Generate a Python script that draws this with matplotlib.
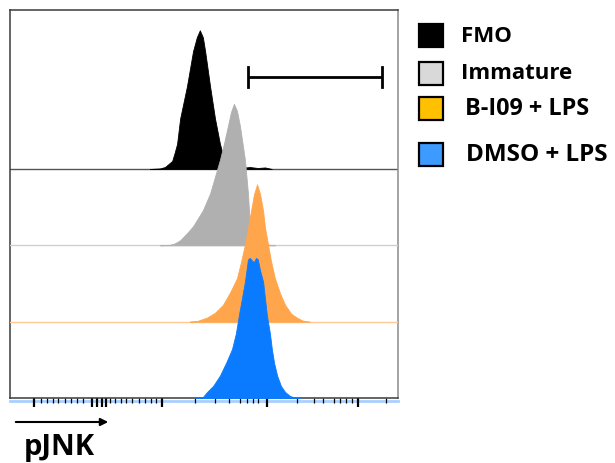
# Stacked flow cytometry histograms (pJNK), offset per sample

import matplotlib.pyplot as plt
from matplotlib.patches import Rectangle

# =============================================================================
#                                     Data
# =============================================================================
# x in channel units (0-1024), y in % of mode

fmo_x = [369, 396, 409, 428, 435, 441, 449, 467, 483, 493, 501, 509, 515, 528,
         541, 554, 565, 578, 607, 633, 654, 673, 691]
fmo_y = [0, 0.4, 1.4, 5.7, 12, 18, 36, 59, 84, 94, 99, 94, 84, 59,
         36, 18, 7, 2, 0.7, 1.4, 0.7, 1.1, 0]

imm_x = [396, 422, 435, 449, 467, 483, 509, 528, 541, 554, 565, 575, 583, 591,
         599, 607, 620, 628, 633, 639, 647, 665, 686, 699]
imm_y = [0, 0.4, 1.4, 3.6, 8.6, 13.6, 25, 37, 49, 61, 73, 85, 95, 101,
         96, 85, 61, 37, 14, 3.6, 1.4, 0.7, 0.4, 0]

bi09_x = [475, 493, 520, 541, 562, 581, 599, 610, 620, 628, 636, 644, 652, 660,
          668, 673, 681, 689, 699, 713, 726, 742, 757, 773, 792]
bi09_y = [0, 0.4, 2.9, 6.4, 12, 21, 31, 43, 55, 67, 79, 91, 98, 91,
          79, 67, 55, 43, 31, 20, 12, 5.7, 2.9, 0.7, 0]

dmso_x = [488, 509, 520, 536, 554, 570, 586, 596, 604, 612, 620, 628, 633, 639,
          644, 649, 654, 660, 668, 673, 678, 686, 691, 697, 705, 715, 726, 739,
          752, 765]
dmso_y = [0, 0.7, 4.3, 8.6, 16, 25, 35, 46, 59, 71, 83, 99, 100, 98,
          97, 100, 99, 91, 83, 71, 59, 46, 35, 25, 16, 8.6, 4.3, 1.4,
          0.4, 0]

labels = ['FMO', 'Immature', 'B-I09 + LPS', 'DMSO + LPS']
fill_colors = ['#000000', '#B0B0B0', '#FFA64D', '#0A7BFF']
base_colors = ['#555555', '#CFCFCF', '#FFC995', '#A8D0FF']
legend_colors = ['#000000', '#D9D9D9', '#FFC000', '#3D9BFF']

# axis ticks (channels)
major_ticks = [63, 216, 230, 243, 253, 401, 678, 918]
minor_ticks = [82, 98, 113, 127, 145, 161, 177, 193, 264, 277, 293, 306, 322,
               340, 356, 372, 385, 488, 541, 578, 607, 625, 641, 654, 757, 802,
               826, 855, 871, 887, 902, 992]

gate = (628, 982)  # positive gate

# =============================================================================
#                                     Plot
# =============================================================================
fig = plt.figure(figsize=(6.15, 4.64), dpi=100)
ax = fig.add_axes([10 / 615, 65 / 464, 388 / 615, 388 / 464])

offset = 54.5    # vertical offset between rows
series = [(fmo_x, fmo_y), (imm_x, imm_y), (bi09_x, bi09_y), (dmso_x, dmso_y)]

for i, (xs, ys) in enumerate(series):
    base = offset * (3 - i)
    yy = [base + v for v in ys]
    if i < 3:
        ax.axhline(base, color=base_colors[i], lw=1.0, zorder=2 + 2 * i)
    ax.fill_between(xs, base, yy, color=fill_colors[i], lw=0.6,
                    edgecolor=fill_colors[i], zorder=3 + 2 * i)

# blue baseline sits just under the bottom frame
ax.plot([0, 1024], [-1.8, -1.8], color=base_colors[3], lw=2, clip_on=False, zorder=1)

# gate bar
gy = 229.3
ax.plot(gate, [gy, gy], color='black', lw=2, solid_capstyle='butt', zorder=20)
for gx in gate:
    ax.plot([gx, gx], [gy - 7, gy + 7], color='black', lw=2, zorder=20)

ax.set_xlim(0, 1024)
ax.set_ylim(0, 277)
ax.set_xticks(major_ticks)
ax.set_xticks(minor_ticks, minor=True)
ax.set_xticklabels([])
ax.set_yticks([])
ax.tick_params(axis='x', which='major', direction='out', length=6.5, width=1.6, color='black')
ax.tick_params(axis='x', which='minor', direction='out', length=3.5, width=0.9, color='black')
for name, sp in ax.spines.items():
    sp.set_color('#3a3a3a')
    sp.set_linewidth(1.1)
ax.spines['right'].set_color('#8a8a8a')

# axis arrow and label
ax.annotate('', xy=(111 / 615, 41 / 464), xytext=(13 / 615, 41 / 464),
            xycoords='figure fraction',
            arrowprops=dict(arrowstyle='-|>', lw=1.5, color='black', mutation_scale=11))
fig.text(24 / 615, 9 / 464, 'pJNK', fontsize=21, fontweight='bold',
         family='Open Sans', va='baseline', ha='left')

# legend
legend_y = [36, 74, 109, 155]
text_x = [461, 461, 465, 466]
text_size = [16, 16, 16.8, 17.5]
for lab, col, yc, tx, fs in zip(labels, legend_colors, legend_y, text_x, text_size):
    fig.add_artist(Rectangle((419 / 615, (464 - yc - 11.5) / 464), 24 / 615, 23 / 464,
                             facecolor=col, edgecolor='black', lw=1.6,
                             transform=fig.transFigure))
    fig.text(tx / 615, (464 - yc) / 464, lab, fontsize=fs, fontweight='bold',
             family='Open Sans', va='center', ha='left')

fig.savefig('out.png', dpi=100)
